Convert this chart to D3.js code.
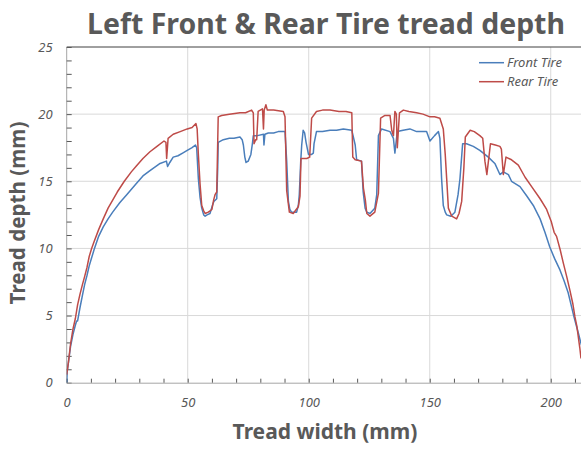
<!DOCTYPE html>
<html>
<head>
<meta charset="utf-8">
<script src="https://cdn.jsdelivr.net/npm/d3@7"></script>
<style>
  body { margin: 0; background: #fff; }
  svg { display: block; font-family: "Noto Sans", "Open Sans", sans-serif; }
</style>
</head>
<body>
<svg id="chart" width="581" height="449"></svg>
<script>
// tread profile, [width mm, depth mm]
const frontTire = [
  [0,0],[0.2,0.8],[0.7,1.5],[1.6,2.7],[2.6,3.6],[3.6,4.3],[4.1,4.6],[4.5,4.6],[5.5,5.6],[6.5,6.5],
  [7.4,7.3],[8.4,8.0],[9.3,8.7],[10.3,9.3],[11.3,9.9],[13.2,10.9],[15.1,11.6],[17.1,12.2],[19.0,12.7],
  [21.9,13.4],[24.8,14.0],[28.6,14.8],[31.5,15.4],[34.4,15.8],[38.3,16.3],[41.2,16.5],[41.7,16.1],
  [42.6,16.4],[44.0,16.8],[46.0,16.9],[47.9,17.1],[49.8,17.3],[51.8,17.5],[53.2,17.7],[53.7,17.5],
  [54.4,15.2],[55.1,13.8],[55.8,13.0],[56.6,12.5],[57.2,12.4],[58.0,12.5],[59.2,12.6],[60.2,13.2],
  [60.8,13.5],[62.0,13.7],[62.4,16.0],[62.6,17.9],[64.7,18.1],[67.2,18.2],[69.1,18.2],[71.6,18.3],
  [72.5,18.1],[73.0,17.7],[73.6,16.8],[74.1,16.4],[75.0,16.5],[76.1,17.0],[76.8,17.9],[77.1,18.4],
  [78.8,18.4],[81.3,18.5],[81.5,17.7],[81.9,18.5],[83.3,18.6],[85.5,18.6],[87.4,18.7],[90.2,18.7],
  [90.9,16.5],[91.6,13.5],[92.2,12.9],[92.9,12.7],[95.0,12.7],[95.7,13.2],[96.1,14.0],[96.7,16.5],
  [97.1,17.7],[97.7,18.8],[98.3,18.6],[98.9,17.9],[99.9,17.0],[101.2,17.0],[101.9,17.1],[102.2,17.8],
  [103.2,18.7],[105.7,18.7],[108.8,18.8],[111.5,18.8],[114.3,18.9],[117.8,18.8],[119.2,17.7],
  [119.8,16.6],[121.8,16.5],[122.5,14.2],[123.3,13.0],[124.0,12.7],[125.3,12.6],[127.3,13.0],
  [128.1,14.0],[128.8,18.4],[130.1,18.9],[133.6,18.7],[135.0,18.2],[135.6,17.1],[136.6,18.7],
  [139.0,18.8],[141.8,18.9],[144.6,18.7],[148.7,18.7],[150.1,18.0],[152.0,18.4],[153.6,18.7],
  [154.2,18.2],[154.9,15.2],[155.6,13.2],[156.4,12.7],[157.0,12.5],[158.7,12.4],[160.4,12.7],
  [161.7,14.0],[162.5,15.2],[163.6,17.8],[165.2,17.8],[168.0,17.6],[170.7,17.3],[174.2,16.8],
  [177.0,16.3],[179.0,15.5],[180.4,15.7],[182.5,15.5],[183.8,15.0],[187.3,14.6],[190.1,13.9],
  [192.8,13.2],[195.6,12.2],[197.6,11.2],[199.6,10.1],[201.7,9.2],[203.8,8.4],[205.5,7.6],
  [207.2,6.7],[208.4,5.8],[209.6,4.9],[210.5,4.3],[211.4,3.7],[212.1,3.2],[212.7,2.8]
];
const rearTire = [
  [0,0.6],[0.7,1.5],[1.6,2.9],[2.6,4.0],[3.6,4.8],[4.5,5.8],[5.5,6.6],[6.5,7.3],[7.4,7.9],[8.4,8.6],
  [9.3,9.4],[10.3,10.0],[11.3,10.5],[13.2,11.4],[15.1,12.2],[17.1,13.0],[19.0,13.6],[20.9,14.2],
  [23.8,15.0],[26.7,15.7],[28.6,16.1],[31.5,16.7],[34.4,17.2],[37.3,17.6],[40.2,18.0],[41.0,17.9],
  [41.3,16.7],[41.9,18.2],[44.0,18.5],[46.9,18.7],[49.8,18.9],[51.8,19.0],[53.4,19.3],[53.9,18.9],
  [54.4,17.0],[55.1,14.8],[55.8,13.2],[56.6,12.8],[57.2,12.6],[58.5,12.7],[60.0,12.9],[60.7,13.6],
  [61.3,14.0],[62.0,14.2],[62.4,18.0],[62.6,19.8],[64.0,19.9],[67.2,20.0],[71.6,20.1],[73.9,20.1],
  [76.4,20.3],[77.1,20.1],[77.4,17.8],[78.1,18.1],[78.5,18.1],[79.1,20.2],[80.9,20.4],[81.3,18.9],
  [81.6,20.3],[82.3,20.7],[82.9,20.3],[85.5,20.3],[89.5,20.2],[90.2,19.8],[90.9,14.3],[92.0,12.7],
  [93.6,12.6],[95.7,13.1],[96.4,13.9],[96.8,16.7],[99.2,16.7],[100.4,16.8],[101.2,19.7],[103.2,20.2],
  [105.7,20.3],[108.8,20.3],[112.5,20.2],[115.4,20.2],[117.8,20.1],[118.2,16.8],[119.2,16.6],
  [121.8,16.5],[122.6,14.5],[123.4,13.6],[124.0,12.6],[125.3,12.4],[127.3,12.7],[128.8,14.1],
  [129.7,19.7],[131.5,19.9],[133.6,19.9],[134.3,18.8],[135.0,18.4],[135.6,20.2],[136.2,20.0],
  [136.6,17.5],[137.5,20.1],[139.1,20.3],[141.4,20.2],[144.6,20.1],[147.2,20.0],[150.1,19.8],
  [152.0,19.8],[154.2,19.7],[155.6,18.9],[156.4,17.0],[157.0,15.2],[157.7,13.0],[159.1,12.4],
  [161.1,12.2],[162.1,12.6],[163.2,13.5],[164.1,16.0],[164.7,18.3],[166.7,18.8],[168.4,18.7],
  [170.7,18.4],[171.9,18.2],[172.8,16.5],[173.6,15.5],[175.1,17.8],[177.1,17.7],[179.0,17.6],
  [179.6,17.4],[180.4,15.5],[181.5,16.8],[183.8,16.6],[186.6,16.2],[189.4,15.3],[192.1,14.6],
  [195.6,13.7],[198.3,12.9],[200.2,12.0],[201.4,11.2],[202.4,10.9],[203.9,9.9],[205.2,8.9],
  [206.6,7.9],[207.9,6.9],[209.1,5.9],[210.0,4.9],[210.8,4.2],[211.4,3.4],[212.0,2.6],[212.5,1.8]
];
const seriesNames = ["Front Tire", "Rear Tire"];
const seriesColors = ["#4a7ebb", "#be4b48"];
const xTicks = [0, 50, 100, 150, 200];
const yTicks = [0, 5, 10, 15, 20, 25];
const chartTitle = "Left Front & Rear Tire tread depth";
const xTitle = "Tread width (mm)";
const yTitle = "Tread depth (mm)";

const svg = d3.select("#chart");
const plotLeft = 66.7, plotRight = 581, plotTop = 47, plotBottom = 382.7;

const x = d3.scaleLinear().domain([0, 212.5]).range([plotLeft, plotRight]);
const y = d3.scaleLinear().domain([0, 25]).range([plotBottom, plotTop]);

svg.append("defs").append("clipPath").attr("id", "plot")
  .append("rect").attr("x", plotLeft).attr("y", plotTop - 2)
  .attr("width", plotRight - plotLeft).attr("height", plotBottom - plotTop + 2);

// grid
svg.append("g").selectAll("line").data(xTicks.slice(1)).join("line")
  .attr("x1", d => x(d)).attr("x2", d => x(d))
  .attr("y1", plotTop).attr("y2", plotBottom)
  .attr("stroke", "#d9d9d9");
svg.append("g").selectAll("line").data(yTicks.slice(1, -1)).join("line")
  .attr("x1", plotLeft).attr("x2", plotRight)
  .attr("y1", d => y(d)).attr("y2", d => y(d))
  .attr("stroke", "#d9d9d9");

// top border
svg.append("line").attr("x1", plotLeft).attr("x2", plotRight)
  .attr("y1", y(25)).attr("y2", y(25)).attr("stroke", "#404040");

// axes
const yAxis = svg.append("g").attr("transform", `translate(${plotLeft},0)`)
  .call(d3.axisLeft(y).tickValues(d3.range(0, 26, 1)).tickSize(-5).tickPadding(14)
    .tickFormat(d => d % 5 === 0 ? d : ""));
const xAxis = svg.append("g").attr("transform", `translate(0,${plotBottom})`)
  .call(d3.axisBottom(x).tickValues(d3.range(0, 213, 10)).tickSize(-4).tickPadding(15)
    .tickFormat(d => d % 50 === 0 ? d : ""));

[xAxis, yAxis].forEach(a => {
  a.select(".domain").attr("stroke", "#a6a6a6");
  a.selectAll(".tick line").attr("stroke", "#595959");
  a.selectAll(".tick text")
    .attr("fill", "#595959")
    .attr("font-size", 13)
    .attr("font-style", "italic")
    .attr("font-family", "\"Noto Sans\", \"Open Sans\", sans-serif");
});
yAxis.select(".domain").attr("d", `M0,${plotBottom}V${plotTop}`);

// lines
const line = d3.line().x(d => x(d[0])).y(d => y(d[1]));
const plot = svg.append("g").attr("clip-path", "url(#plot)");
[frontTire, rearTire].forEach((s, i) => {
  plot.append("path").datum(s)
    .attr("fill", "none")
    .attr("stroke", seriesColors[i])
    .attr("stroke-width", 1.5)
    .attr("stroke-linejoin", "round")
    .attr("d", line);
});

// text helper: fit bold text to a measured width
function fitText(sel, width, start) {
  sel.attr("font-size", start);
  const w = sel.node().getComputedTextLength();
  sel.attr("font-size", start * width / w);
}

const title = svg.append("text")
  .attr("x", 326).attr("y", 34)
  .attr("text-anchor", "middle")
  .attr("font-weight", "bold")
  .attr("fill", "#595959")
  .text(chartTitle);
fitText(title, 478, 26);

const xt = svg.append("text")
  .attr("x", 325).attr("y", 439)
  .attr("text-anchor", "middle")
  .attr("font-weight", "bold")
  .attr("fill", "#595959")
  .text(xTitle);
fitText(xt, 185, 20);

const yt = svg.append("text")
  .attr("transform", "translate(25,213) rotate(-90)")
  .attr("text-anchor", "middle")
  .attr("font-weight", "bold")
  .attr("fill", "#595959")
  .text(yTitle);
fitText(yt, 183, 20);

// legend
const legend = svg.append("g").selectAll("g").data(seriesNames).join("g")
  .attr("transform", (d, i) => `translate(479,${62.7 + i * 19})`);
legend.append("line").attr("x1", 0).attr("x2", 25)
  .attr("stroke", (d, i) => seriesColors[i]).attr("stroke-width", 1.5);
legend.append("text").attr("x", 28).attr("dy", "0.35em")
  .attr("font-size", 13).attr("font-style", "italic")
  .attr("fill", "#595959")
  .text(d => d);
</script>
</body>
</html>
